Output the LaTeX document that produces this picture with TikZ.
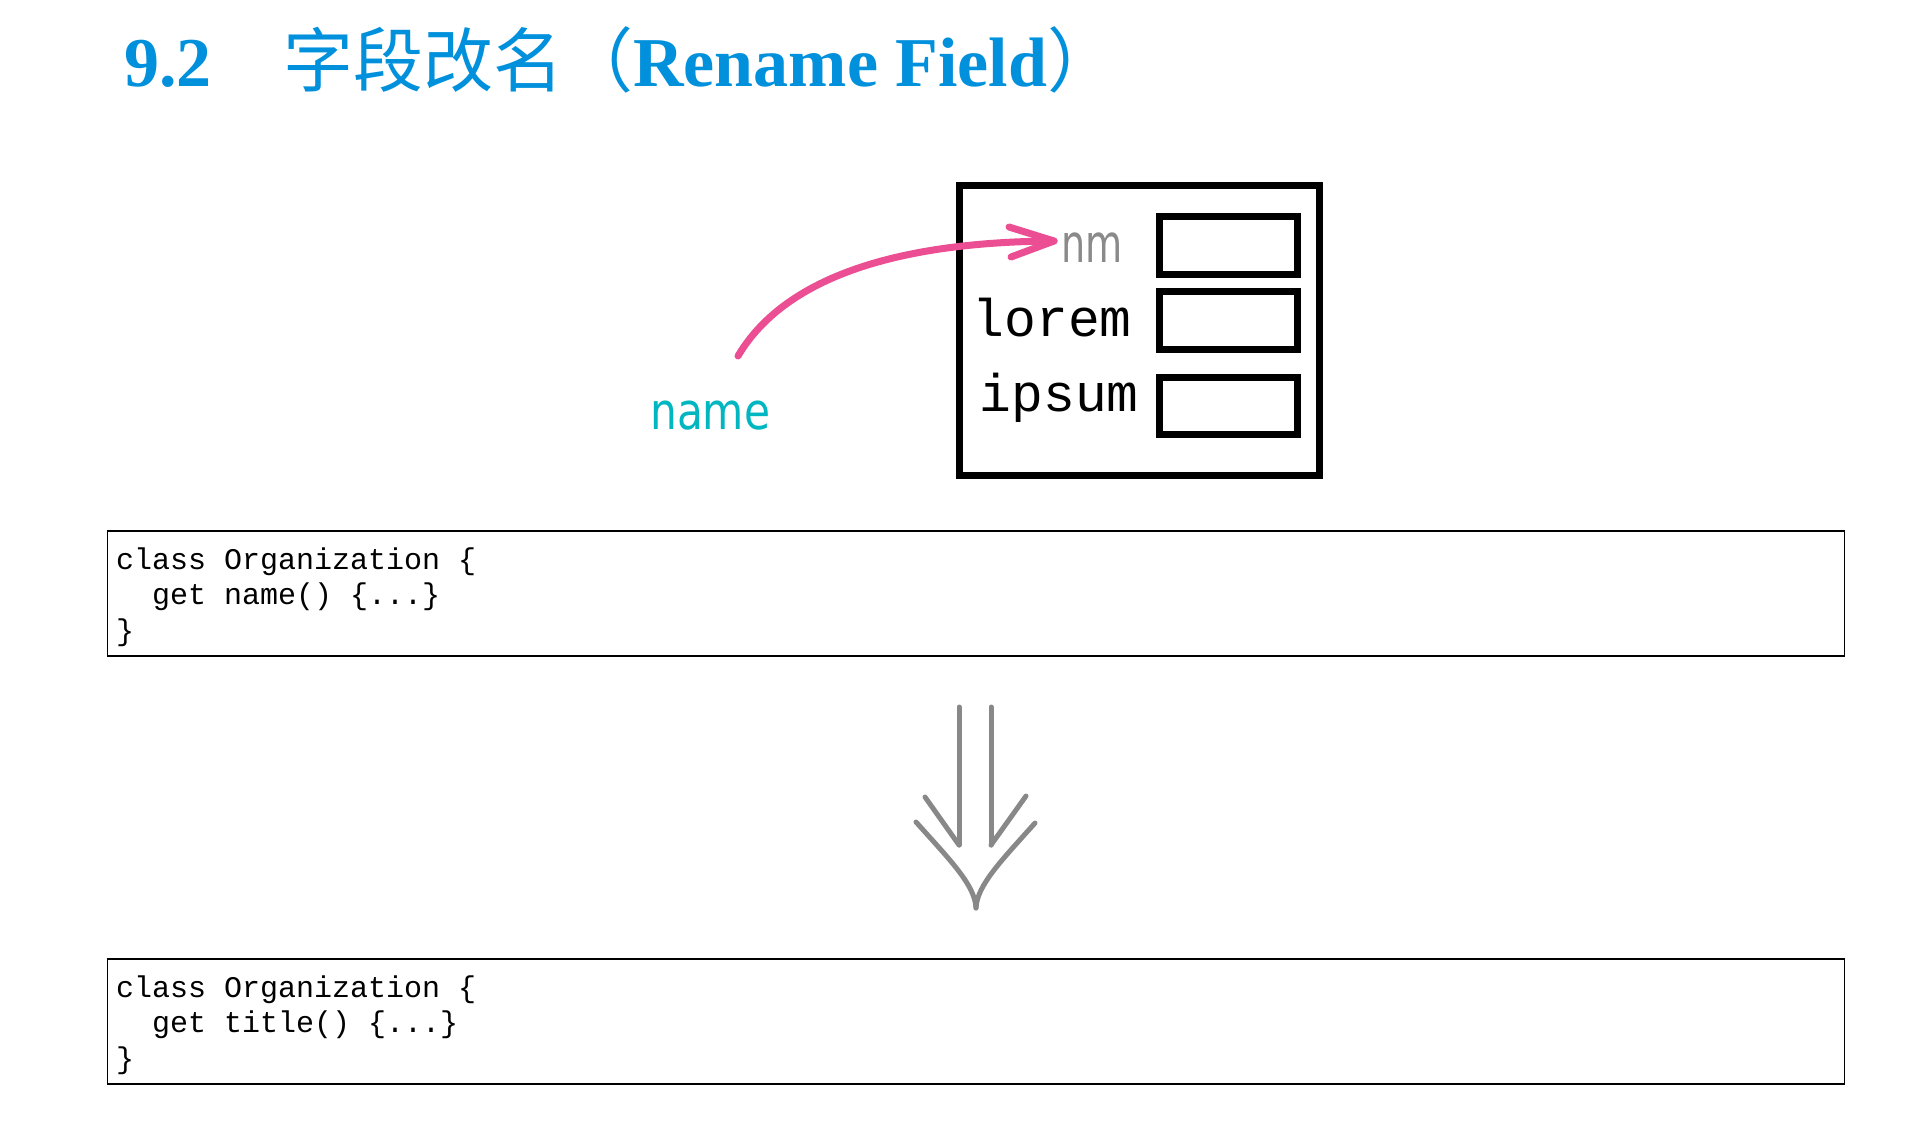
\documentclass[tikz,border=0pt]{standalone}
\usepackage{fontspec}
\setmainfont{Liberation Serif}
\setmonofont{Liberation Mono}
\newfontfamily\cjk{Noto Sans CJK SC}
\newfontfamily\dvs{DejaVu Sans}
\definecolor{titleblue}{RGB}{0,144,220}
\definecolor{pinkc}{RGB}{236,78,147}
\definecolor{tealc}{RGB}{0,182,192}
\definecolor{nmgray}{RGB}{138,138,138}
\definecolor{arrgray}{RGB}{136,136,136}
\tikzset{
  titletext/.style={anchor=base west,inner sep=0,text=titleblue,font=\fontsize{70}{84}\selectfont},
  fieldlabel/.style={anchor=base east,inner sep=0,font=\ttfamily\fontsize{53}{60}\selectfont},
  slotbox/.style={draw,line width=7pt,minimum width=138pt,inner sep=0},
  codebox/.style={draw,line width=1.5pt,minimum width=1737pt,minimum height=125pt,inner sep=0},
  codeline/.style={anchor=base west,inner sep=0,font=\ttfamily\fontsize{30}{35}\selectfont},
  pinkline/.style={draw=pinkc,line width=7pt,line cap=round,line join=round},
  grayline/.style={draw=arrgray,line width=5pt,line cap=round,line join=round}
}
\begin{document}
\begin{tikzpicture}[x=1pt,y=-1pt]
\useasboundingbox (0,0) rectangle (1918,1140);
\fill[white] (0,0) rectangle (1918,1140);

% title
\node[titletext,font=\fontsize{70}{84}\selectfont\bfseries] (tnum) at (124,86) {9.2};
\node[titletext] (ttext) at (283,86) {\cjk 字段改名（\rmfamily\bfseries Rename Field\cjk\mdseries ）};

% record box
\node[draw,line width=7pt,minimum width=360pt,minimum height=289.5pt,inner sep=0] (rec) at (1139,330.25) {};
\node[slotbox,minimum height=58pt] (s1) at (1228,245) {};
\node[slotbox,minimum height=58pt] (s2) at (1228,320) {};
\node[slotbox,minimum height=57pt] (s3) at (1228,405.5) {};
\node[anchor=base east,inner sep=0,text=nmgray,font=\dvs\fontsize{53}{60}\selectfont] (nm) at (1123,262) {\scalebox{0.72}[1]{nm}};
\node[fieldlabel] (lorem) at (1132,336) {lorem};
\node[fieldlabel] (ipsum) at (1139,411) {ipsum};

% name label and pink arrow
\node[anchor=base west,inner sep=0,text=tealc,font=\dvs\fontsize{51}{60}\selectfont] (name) at (650,429) {\scalebox{0.83}[1]{name}};
\coordinate (pstart) at (738,356);
\coordinate (ptip) at (1054,241);
\draw[pinkline] (pstart) .. controls (780,285) and (880,242) .. (ptip);
\draw[pinkline] (ptip) ++(-45,-14) -- (ptip) -- ++(-43,16);

% code box 1
\node[codebox] (box1) at (976,593.5) {};
\node[codeline] (c1a) at (116,569) {class Organization \{};
\node[codeline] (c1b) at (152,604) {get name() \{...\}};
\node[codeline] (c1c) at (116,640) {\}};

% gray arrow
\draw[grayline] (959,707) -- (959,845);
\draw[grayline] (991,707) -- (991,845);
\draw[grayline] (925,797) -- (959,845);
\draw[grayline] (1026,796) -- (991,845);
\draw[grayline] (916,822) .. controls (950,860) and (975,885) .. (976,908);
\draw[grayline] (1035,823) .. controls (1002,860) and (977,885) .. (976,908);

% code box 2
\node[codebox] (box2) at (976,1021.5) {};
\node[codeline] (c2a) at (116,997) {class Organization \{};
\node[codeline] (c2b) at (152,1032) {get title() \{...\}};
\node[codeline] (c2c) at (116,1068) {\}};
\end{tikzpicture}
\end{document}
